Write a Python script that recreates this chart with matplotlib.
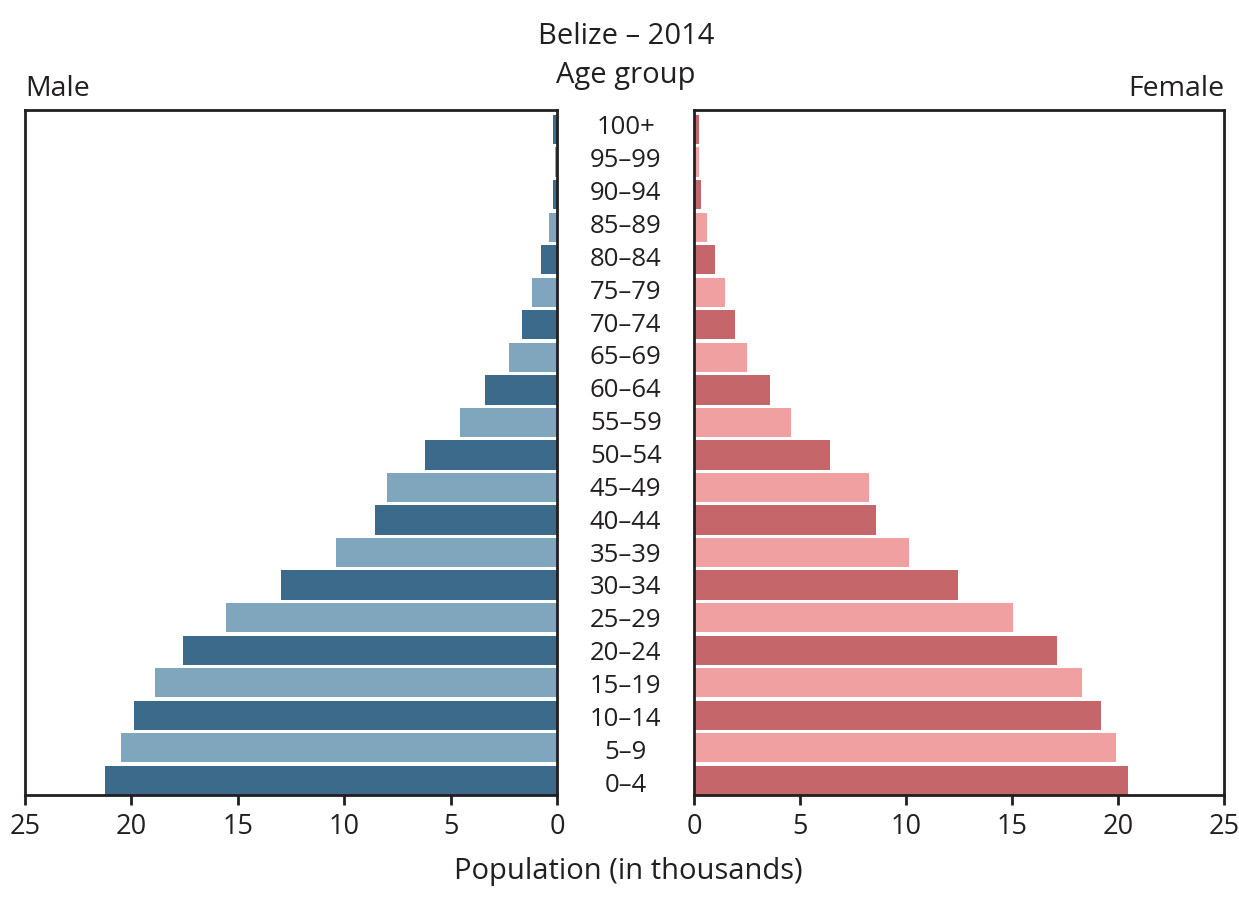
import matplotlib.pyplot as plt

plt.rcParams['font.family'] = ['Open Sans', 'DejaVu Sans']

edades = ["0–4", "5–9", "10–14", "15–19", "20–24", "25–29", "30–34", "35–39",
          "40–44", "45–49", "50–54", "55–59", "60–64", "65–69", "70–74",
          "75–79", "80–84", "85–89", "90–94", "95–99", "100+"]
hombres = [21.25, 20.5, 19.9, 18.9, 17.6, 15.55, 12.95, 10.4, 8.55, 8.0,
           6.2, 4.55, 3.4, 2.25, 1.65, 1.2, 0.75, 0.38, 0.19, 0.12, 0.2]
mujeres = [20.45, 19.9, 19.2, 18.3, 17.1, 15.05, 12.45, 10.15, 8.6, 8.25,
           6.4, 4.6, 3.6, 2.5, 1.95, 1.45, 1.0, 0.6, 0.33, 0.22, 0.24]

azul = ['#3b6a8b', '#80a6be']
rojo = ['#c5676a', '#f0a0a1']

def main():
    fig = plt.figure(figsize=(12.39, 8.99), dpi=100)
    ax_h = fig.add_axes([0.0202, 0.1157, 0.4294, 0.7619])
    ax_m = fig.add_axes([0.5601, 0.1157, 0.4278, 0.7619])

    y = list(range(len(edades)))
    ax_h.barh(y, hombres, height=0.9, color=[azul[i % 2] for i in y])
    ax_m.barh(y, mujeres, height=0.9, color=[rojo[i % 2] for i in y])

    ax_h.set_xlim(25, 0)
    ax_m.set_xlim(0, 25)
    for ax in (ax_h, ax_m):
        ax.set_ylim(-0.45, 20.6)
        ax.set_yticks([])
        ax.set_xticks([0, 5, 10, 15, 20, 25])
        ax.tick_params(axis='x', labelsize=19.5, length=7, width=2, color='#231f20',
                       labelcolor='#231f20', pad=6)
        for s in ax.spines.values():
            s.set_linewidth(2)
            s.set_color('#231f20')

    # etiquetas de edad en el centro (espaciado un poco mayor que las barras)
    for i, e in enumerate(edades):
        fig.text(0.505, 1 - (785 - i * 32.85) / 899, e, ha='center',
                 va='center', fontsize=18.5, color='#231f20')

    fig.text(0.505, 0.959, 'Belize – 2014', ha='center', va='center', fontsize=21, color='#231f20')
    fig.text(0.505, 0.916, 'Age group', ha='center', va='center', fontsize=21, color='#231f20')
    fig.text(0.0202, 0.901, 'Male', ha='left', va='center', fontsize=20.5, color='#231f20')
    fig.text(0.9879, 0.901, 'Female', ha='right', va='center', fontsize=20.5, color='#231f20')
    fig.text(0.507, 0.031, 'Population (in thousands)', ha='center', va='center',
             fontsize=21, color='#231f20')

    fig.savefig('out.png', dpi=100)

if __name__ == "__main__":
    main()
